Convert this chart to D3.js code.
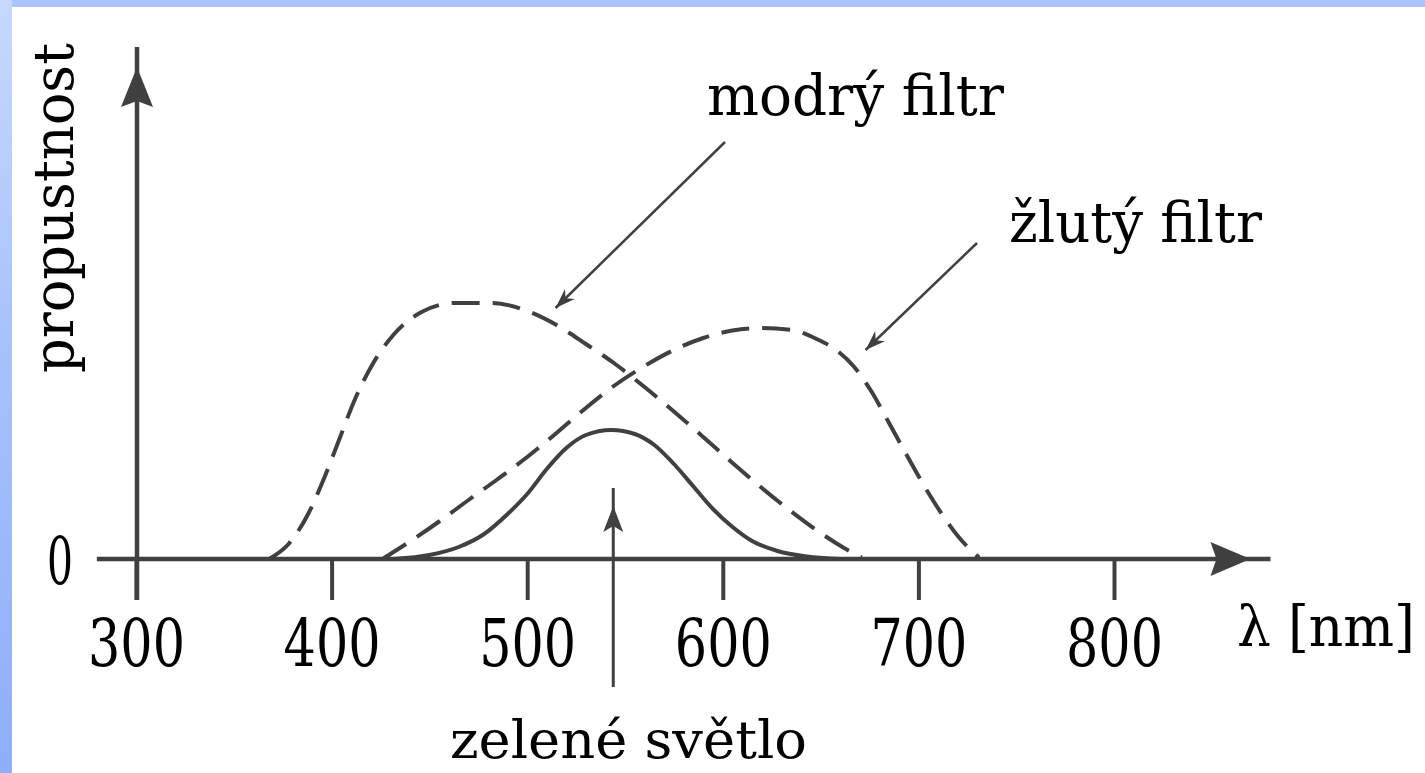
<!DOCTYPE html>
<html>
<head>
<meta charset="utf-8">
<script src="https://cdn.jsdelivr.net/npm/d3@7"></script>
<style>
  html, body { margin: 0; padding: 0; background: #fff; overflow: hidden; }
  svg { display: block; }
  text { font-family: "DejaVu Serif", "Liberation Serif", serif; fill: #000; }
</style>
</head>
<body>
<script>
// wavelength ticks on the x axis (nm)
const wavelengthTicks = [300, 400, 500, 600, 700, 800];

// transmittance curves, [wavelength nm, relative transmittance]
const blueFilter = [
  [368, 0.0], [378, 0.03], [388, 0.09], [396, 0.16], [404, 0.24],
  [412, 0.32], [421, 0.39], [432, 0.45], [446, 0.494], [463, 0.512],
  [482, 0.512], [500, 0.496], [515, 0.468], [530, 0.43], [545, 0.39],
  [560, 0.344], [575, 0.295], [590, 0.244], [605, 0.192], [620, 0.142],
  [635, 0.095], [650, 0.052], [662, 0.022], [671, 0.003]
];

const yellowFilter = [
  [426, 0.0], [440, 0.035], [455, 0.075], [470, 0.118], [485, 0.16],
  [500, 0.204], [515, 0.252], [530, 0.302], [545, 0.348], [560, 0.386],
  [575, 0.418], [590, 0.442], [605, 0.457], [620, 0.462], [635, 0.458],
  [648, 0.44], [658, 0.418], [667, 0.385], [676, 0.335], [685, 0.272],
  [694, 0.208], [703, 0.146], [712, 0.09], [721, 0.042], [731, 0.003]
];

const greenLight = [
  [432, 0.0], [450, 0.008], [465, 0.024], [478, 0.05], [490, 0.09],
  [500, 0.13], [510, 0.18], [520, 0.222], [530, 0.248], [543, 0.258],
  [555, 0.25], [565, 0.228], [575, 0.19], [585, 0.145], [595, 0.1],
  [605, 0.064], [615, 0.036], [628, 0.016], [643, 0.005], [660, 0.0]
];

const labels = {
  yAxis: "propustnost",
  xAxis: "λ [nm]",
  blue: "modrý filtr",
  yellow: "žlutý filtr",
  green: "zelené světlo"
};

const width = 1425, height = 773;
const ink = "#404040";

const svg = d3.select("body").append("svg")
    .attr("width", width)
    .attr("height", height);

// slide frame: blue strip on top and on the left
const defs = svg.append("defs");
const grad = defs.append("linearGradient")
    .attr("id", "side")
    .attr("x1", 0).attr("y1", 0).attr("x2", 0).attr("y2", 1);
grad.append("stop").attr("offset", "0%").attr("stop-color", "#c6d8fc");
grad.append("stop").attr("offset", "45%").attr("stop-color", "#a7c2fb");
grad.append("stop").attr("offset", "100%").attr("stop-color", "#8eaefa");

svg.append("rect").attr("width", width).attr("height", height).attr("fill", "#fff");
svg.append("rect").attr("width", width).attr("height", 7).attr("fill", "#aac5fd");
svg.append("rect").attr("width", 12).attr("height", height).attr("fill", "url(#side)");

const x = d3.scaleLinear().domain([300, 800]).range([136, 1114]);
const y = d3.scaleLinear().domain([0, 1]).range([559, 59]);

function arrowHead(g, tipX, tipY, angle, len, half) {
  // filled narrow head pointing along angle (degrees, 0 = right)
  g.append("path")
    .attr("d", `M0,0L${-len},${-half}L${-len + 6},0L${-len},${half}Z`)
    .attr("transform", `translate(${tipX},${tipY}) rotate(${angle})`)
    .attr("fill", ink);
}

// x axis
const xAxis = svg.append("g")
    .attr("transform", `translate(0,${y(0)})`)
    .call(d3.axisBottom(x).tickValues(wavelengthTicks).tickSize(41).tickSizeOuter(0));
xAxis.select(".domain").remove();
xAxis.selectAll(".tick line").attr("stroke", ink).attr("stroke-width", 4);
xAxis.selectAll(".tick text")
    .attr("y", 107)
    .attr("dy", null)
    .attr("font-size", 66)
    .attr("font-family", null)
    .attr("fill", "#000")
    .attr("textLength", 97)
    .attr("lengthAdjust", "spacingAndGlyphs");

svg.append("line")
    .attr("x1", x(280)).attr("x2", x(880))
    .attr("y1", y(0)).attr("y2", y(0))
    .attr("stroke", ink).attr("stroke-width", 4.5);
arrowHead(svg, x(880) - 20, y(0), 0, 40, 17);

// y axis
const yAxis = svg.append("g")
    .attr("transform", `translate(${x(300)},0)`)
    .call(d3.axisLeft(y).tickValues([0]).tickFormat(d3.format("d")).tickSize(0));
yAxis.select(".domain").remove();
yAxis.selectAll(".tick text")
    .attr("x", -63)
    .attr("y", 24)
    .attr("dy", null)
    .attr("font-size", 66)
    .attr("font-family", null)
    .attr("fill", "#000")
    .attr("textLength", 26)
    .attr("lengthAdjust", "spacingAndGlyphs");

svg.append("line")
    .attr("x1", x(300) + 1).attr("x2", x(300) + 1)
    .attr("y1", y(0) + 41).attr("y2", y(1) - 12)
    .attr("stroke", ink).attr("stroke-width", 4.5);
arrowHead(svg, x(300) + 1, y(1) + 8, -90, 40, 16);

// curves
const line = d3.line()
    .x(d => x(d[0]))
    .y(d => y(d[1]))
    .curve(d3.curveMonotoneX);

svg.append("path").datum(blueFilter)
    .attr("d", line)
    .attr("fill", "none").attr("stroke", ink).attr("stroke-width", 4)
    .attr("stroke-dasharray", "28,13");

svg.append("path").datum(yellowFilter)
    .attr("d", line)
    .attr("fill", "none").attr("stroke", ink).attr("stroke-width", 4)
    .attr("stroke-dasharray", "28,13");

svg.append("path").datum(greenLight)
    .attr("d", line)
    .attr("fill", "none").attr("stroke", ink).attr("stroke-width", 4);

// axis titles
svg.append("text")
    .attr("transform", "translate(73,373) rotate(-90)")
    .attr("font-size", 56)
    .attr("textLength", 330)
    .attr("lengthAdjust", "spacingAndGlyphs")
    .text(labels.yAxis);

svg.append("text")
    .attr("x", 1237).attr("y", 646)
    .attr("font-size", 56)
    .attr("textLength", 178)
    .attr("lengthAdjust", "spacingAndGlyphs")
    .text(labels.xAxis);

// annotations
svg.append("text")
    .attr("x", 707).attr("y", 115)
    .attr("font-size", 56)
    .attr("textLength", 297)
    .attr("lengthAdjust", "spacingAndGlyphs")
    .text(labels.blue);

svg.append("text")
    .attr("x", 1009).attr("y", 242)
    .attr("font-size", 56)
    .attr("textLength", 253)
    .attr("lengthAdjust", "spacingAndGlyphs")
    .text(labels.yellow);

svg.append("text")
    .attr("x", 450).attr("y", 758)
    .attr("font-size", 52)
    .attr("textLength", 357)
    .attr("lengthAdjust", "spacingAndGlyphs")
    .text(labels.green);

function pointer(x1, y1, x2, y2, len, half, w) {
  svg.append("line")
    .attr("x1", x1).attr("y1", y1).attr("x2", x2).attr("y2", y2)
    .attr("stroke", ink).attr("stroke-width", w);
  const ang = Math.atan2(y2 - y1, x2 - x1) * 180 / Math.PI;
  arrowHead(svg, x2, y2, ang, len, half);
}

pointer(725, 142, x(514.5), y(0.502), 20, 7, 2.5);
pointer(977, 243, x(673), y(0.418), 20, 7, 2.5);

// green light pointer from below
const gx = x(544);
svg.append("line")
    .attr("x1", gx).attr("x2", gx)
    .attr("y1", 687).attr("y2", y(0.258) + 58)
    .attr("stroke", ink).attr("stroke-width", 3);
arrowHead(svg, gx, y(0.258) + 76, -90, 26, 10);
</script>
</body>
</html>
